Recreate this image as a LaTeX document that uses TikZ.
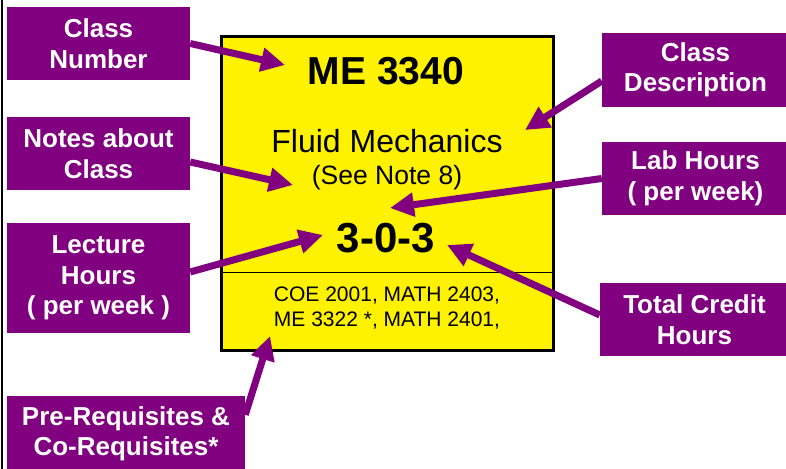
\documentclass[tikz,border=0pt]{standalone}
\usepackage{fontspec}
\setmainfont{Liberation Sans}
\usetikzlibrary{arrows.meta,calc}
\definecolor{plum}{HTML}{800080}

\begin{document}
\begin{tikzpicture}[x=1pt,y=-1pt,
  tag/.style={fill=plum,text=white,align=center,inner sep=0pt,font=\fontsize{26}{30.5}\selectfont\bfseries},
  pointer/.style={draw=plum,line width=7pt,-{Triangle[length=24pt,width=23pt]}}]
\useasboundingbox (0,0) rectangle (786,468);
\draw[line width=2.5pt] (2,-2) -- (2,470);
% the card
\node[draw,line width=3pt,fill=yellow,minimum width=332pt,minimum height=313pt,inner sep=0pt] (card) at (387,193.5) {};
\draw[line width=0.8pt] (card.west |- 0,272) -- (card.east |- 0,272);
\node[anchor=base,font=\fontsize{39}{39}\selectfont\bfseries] (num) at (386,85) {ME 3340};
\node[anchor=base,font=\fontsize{32}{32}\selectfont] (title) at (387,152) {Fluid Mechanics};
\node[anchor=base,font=\fontsize{26.5}{26.5}\selectfont] (note) at (387,184) {(See Note 8)};
\node[anchor=base,font=\fontsize{42}{42}\selectfont\bfseries] (credits) at (386,252) {3-0-3};
\node[anchor=base,align=center,font=\fontsize{21}{25}\selectfont] (prereqs) at (387,326) {COE 2001, MATH 2403,\\ME 3322 *, MATH 2401,};
% the tags
\node[tag,minimum width=183pt,minimum height=73pt] (cnum) at (98.5,43.5) {Class\\Number};
\node[tag,minimum width=183pt,minimum height=73pt] (notes) at (98.5,153.5) {Notes about\\Class};
\node[tag,minimum width=183pt,minimum height=110pt] (lect) at (98.5,278) {Lecture\\Hours\\( per week )};
\node[tag,minimum width=238pt,minimum height=76pt] (prereq) at (126,434) {Pre-Requisites \&\\Co-Requisites*};
\node[tag,minimum width=187pt,minimum height=74pt] (desc) at (695.5,70) {Class\\Description};
\node[tag,minimum width=187pt,minimum height=73pt] (lab) at (695.5,178.5) {Lab Hours\\( per week)};
\node[tag,minimum width=189pt,minimum height=73pt] (total) at (694.5,319.5) {Total Credit\\Hours};
% arrow tips
\coordinate (numtip) at (285,65);
\coordinate (notetip) at (293,185);
\coordinate (lecttip) at (323,235);
\coordinate (prereqtip) at (270,336);
\coordinate (desctip) at (525,130);
\coordinate (labtip) at (390,208);
\coordinate (totaltip) at (447,245);
\draw[pointer] (cnum.east) -- (numtip);
\draw[pointer] ($(notes.east)+(0,8.5)$) -- (notetip);
\draw[pointer] ($(lect.east)+(0,-6)$) -- (lecttip);
\draw[pointer] ($(prereq.north east)+(0,19)$) -- (prereqtip);
\draw[pointer] ($(desc.west)+(0,11)$) -- (desctip);
\draw[pointer] (lab.west) -- (labtip);
\draw[pointer] ($(total.west)+(0,-4.5)$) -- (totaltip);
\end{tikzpicture}
\end{document}
